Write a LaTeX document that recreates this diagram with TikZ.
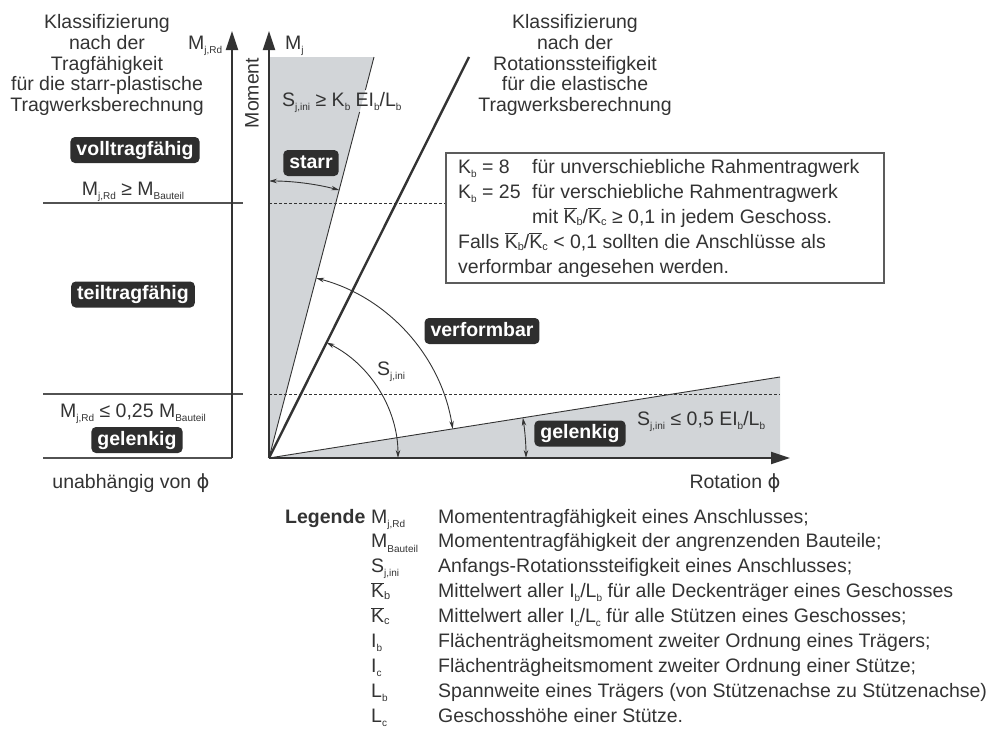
\documentclass[tikz,border=0pt]{standalone}
\usepackage{fontspec}
\setmainfont{Liberation Sans}
\newfontfamily\symfont{DejaVu Sans}
\usetikzlibrary{arrows.meta,calc}

\definecolor{ink}{HTML}{333333}
\definecolor{zonegray}{HTML}{D2D5D8}
\definecolor{tagfill}{HTML}{2E2E2E}

% lowered small index, as in M_{j,Rd}
\newcommand\sbx[1]{\raisebox{-0.4ex}{\fontsize{10}{10}\selectfont #1}}
% mean stiffness ratio symbol K with a bar
\newcommand\Kbar[1]{\ensuremath{\overline{\mbox{K}}}\raisebox{-0.15ex}{\fontsize{11}{11}\selectfont #1}}
\newcommand\phisym{{\symfont ϕ}}

\tikzset{
  axis/.style={line width=2pt, draw=ink, -{Triangle[length=19pt,width=12pt]}},
  guide/.style={line width=1.3pt, draw=ink!85},
  bound/.style={line width=0.9pt, draw=ink},
  dotline/.style={line width=0.8pt, draw=ink, dash pattern=on 2.5pt off 2.5pt},
  dim/.style={line width=0.9pt, draw=ink, {Stealth[length=8pt,width=4.5pt]}-{Stealth[length=8pt,width=4.5pt]}},
  tag/.style={fill=tagfill, text=white, font=\fontsize{19.5}{20}\selectfont\bfseries,
    rounded corners=4.5pt, inner xsep=6pt, inner ysep=4pt, text height=14pt, text depth=4pt},
  lbl/.style={text=ink, inner sep=0pt},
}

\begin{document}
\begin{tikzpicture}[x=1pt, y=-1pt, font=\fontsize{19.5}{20.8}\selectfont]
\useasboundingbox (0,0) rectangle (994,731);

% key points of the moment-rotation diagram
\coordinate (O) at (269,458);
\coordinate (Ltop) at (232,31);
\coordinate (Lbot) at (232,458);
\coordinate (Mtop) at (269,31);
\coordinate (Rend) at (790,458);
\coordinate (G1) at (269,57);
\coordinate (G2) at (374,57);
\coordinate (Ga) at (359.6,112);
\coordinate (Gb) at (365.4,90);
\coordinate (E) at (469,57);
\coordinate (P1) at (780,377);
\coordinate (P2) at (780,458);

% shaded zones: rigid (top) and nominally pinned (bottom)
\fill[zonegray] (O) -- (G1) -- (G2) -- cycle;
\fill[zonegray] (O) -- (P1) -- (P2) -- cycle;

% dotted reference levels
\coordinate (d1a) at (269,203); \coordinate (d1b) at (446,203);
\coordinate (d2a) at (269,394); \coordinate (d2b) at (780,394);
\draw[dotline] (d1a) -- (d1b);
\draw[dotline] (d2a) -- (d2b);

% zone boundaries
\draw[bound] (O) -- (Ga);
\draw[bound] (Gb) -- (G2);
\draw[bound] (O) -- (P1);
\draw[line width=2.4pt, draw=ink] (O) -- (E);

% left classification column
\coordinate (h1a) at (43,203); \coordinate (h1b) at (243,203);
\coordinate (h2a) at (43,394); \coordinate (h2b) at (243,394);
\coordinate (h3a) at (43,458);
\draw[guide] (h1a) -- (h1b);
\draw[guide] (h2a) -- (h2b);
\draw[guide] (h3a) -- (Lbot);

% axes
\draw[axis] (Lbot) -- (Ltop);
\draw[axis] (O) -- (Mtop);
\draw[axis] (O) -- (Rend);

% angle markers around the origin
\coordinate (sA) at ($(O)+(-90:277)$);
\draw[dim] (sA) arc[start angle=-90, end angle=-75.3, radius=277];
\coordinate (vA) at ($(O)+(-75.3:186)$);
\draw[dim] (vA) arc[start angle=-75.3, end angle=-9.0, radius=186];
\coordinate (kA) at ($(O)+(-63.5:129)$);
\draw[dim] (kA) arc[start angle=-63.5, end angle=0, radius=129];
\coordinate (gA) at ($(O)+(-9.0:257)$);
\draw[dim] (gA) arc[start angle=-9.0, end angle=0, radius=257];

% headings
\node[lbl, align=center] (hl) at (107,65)
  {Klassifizierung\\nach der\\Tragfähigkeit\\für die starr-plastische\\Tragwerksberechnung};
\node[lbl, align=center] (hr) at (575,65)
  {Klassifizierung\\nach der\\Rotationssteifigkeit\\für die elastische\\Tragwerksberechnung};

% axis labels
\node[lbl, anchor=base west] (mjrd) at (188,49) {M\sbx{j,Rd}};
\node[lbl, anchor=base west] (mj) at (285,49) {M\sbx{j}};
\node[lbl, rotate=90] (mom) at (252,93) {Moment};
\node[lbl, anchor=base] (rot) at (735,488) {Rotation \phisym};
\node[lbl, anchor=base] (unab) at (131,488) {unabhängig von \phisym};

% left column classes
\node[tag] (voll) at (135,150) {volltragfähig};
\node[lbl, anchor=base] (c1) at (133,195) {M\sbx{j,Rd} ≥ M\sbx{Bauteil}};
\node[tag] (teil) at (133,294.5) {teiltragfähig};
\node[lbl, anchor=base] (c2) at (133,417) {M\sbx{j,Rd} ≤ 0,25 M\sbx{Bauteil}};
\node[tag] (gel1) at (137,440) {gelenkig};

% diagram classes
\node[lbl, anchor=base west] (srig) at (282,106) {S\sbx{j,ini} ≥ K\sbx{b} EI\sbx{b}/L\sbx{b}};
\node[tag] (starr) at (311,163) {starr};
\node[tag] (verf) at (482,331) {verformbar};
\node[lbl, anchor=base west] (sini) at (377,375) {S\sbx{j,ini}};
\node[tag] (gel2) at (580,433.5) {gelenkig};
\node[lbl, anchor=base west] (spin) at (637,425) {S\sbx{j,ini} ≤ 0,5 EI\sbx{b}/L\sbx{b}};

% frame with the stiffness factors
\draw[line width=1.1pt, draw=ink!80] (446,153) rectangle (884,283);
\node[lbl, anchor=base west] (k8) at (458,173) {K\sbx{b} = 8};
\node[lbl, anchor=base west] (k8t) at (532,173) {für unverschiebliche Rahmentragwerk};
\node[lbl, anchor=base west] (k25) at (458,198) {K\sbx{b} = 25};
\node[lbl, anchor=base west] (k25t) at (532,198) {für verschiebliche Rahmentragwerk};
\node[lbl, anchor=base west] (kmit) at (532,223.5) {mit \Kbar{b}/\Kbar{c} ≥ 0,1 in jedem Geschoss.};
\node[lbl, anchor=base west] (kf1) at (458,248.5) {Falls \Kbar{b}/\Kbar{c} < 0,1 sollten die Anschlüsse als};
\node[lbl, anchor=base west] (kf2) at (458,273.5) {verformbar angesehen werden.};

% legend
\node[lbl, anchor=base west, font=\fontsize{19.5}{20}\selectfont\bfseries] (leg) at (285,523) {Legende};
\foreach \i/\s/\t in {
  0/{M\sbx{j,Rd}}/{Momententragfähigkeit eines Anschlusses;},
  1/{M\sbx{Bauteil}}/{Momententragfähigkeit der angrenzenden Bauteile;},
  2/{S\sbx{j,ini}}/{Anfangs-Rotationssteifigkeit eines Anschlusses;},
  3/{\Kbar{b}}/{Mittelwert aller I\sbx{b}/L\sbx{b} für alle Deckenträger eines Geschosses},
  4/{\Kbar{c}}/{Mittelwert aller I\sbx{c}/L\sbx{c} für alle Stützen eines Geschosses;},
  5/{I\sbx{b}}/{Flächenträgheitsmoment zweiter Ordnung eines Trägers;},
  6/{I\sbx{c}}/{Flächenträgheitsmoment zweiter Ordnung einer Stütze;},
  7/{L\sbx{b}}/{Spannweite eines Trägers (von Stützenachse zu Stützenachse)},
  8/{L\sbx{c}}/{Geschosshöhe einer Stütze.}} {
  \node[lbl, anchor=base west] (sym\i) at (371,523+24.9*\i) {\s};
  \node[lbl, anchor=base west] (txt\i) at (438,523+24.9*\i) {\t};
}
\end{tikzpicture}
\end{document}
